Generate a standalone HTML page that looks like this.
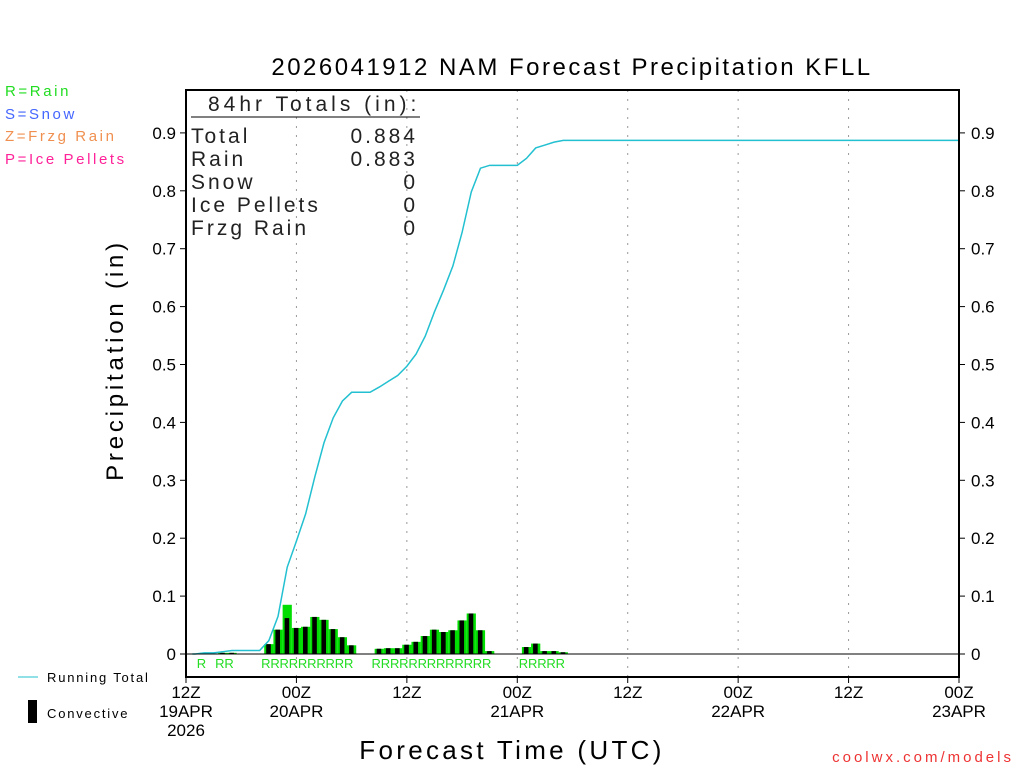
<!DOCTYPE html>
<html><head><meta charset="utf-8"><style>
body{margin:0;background:#fff}
svg text{font-family:"Liberation Sans",sans-serif}
</style></head><body>
<svg id="c" width="1024" height="768" xmlns="http://www.w3.org/2000/svg">
<text x="572" y="75" font-size="24" text-anchor="middle" letter-spacing="2.5">2026041912 NAM Forecast Precipitation KFLL</text>
<g font-size="15" letter-spacing="2.6">
<text x="5" y="96" fill="#22dd22">R=Rain</text>
<text x="5" y="119" fill="#4466ff">S=Snow</text>
<text x="5" y="141" fill="#f09050">Z=Frzg Rain</text>
<text x="5" y="164" fill="#ff2299">P=Ice Pellets</text>
</g>
<text transform="translate(123,360) rotate(-90)" font-size="24" text-anchor="middle" letter-spacing="3.8">Precipitation (in)</text>
<text x="512" y="759" font-size="26" text-anchor="middle" letter-spacing="3.3">Forecast Time (UTC)</text>
<text x="1014" y="762" font-size="15" fill="#ee3333" text-anchor="end" letter-spacing="3">coolwx.com/models</text>
<line x1="18" y1="677" x2="38" y2="677" stroke="#22c0d0"/>
<text x="47" y="682" font-size="13" letter-spacing="1.8">Running Total</text>
<rect x="28" y="700" width="9" height="23" fill="#000"/>
<text x="47" y="718" font-size="13" letter-spacing="1.8">Convective</text>
<g id="grid"></g><g id="bars"></g><g id="line"></g><g id="axes"></g>
<g font-size="21" letter-spacing="3" fill="#222">
<text x="208" y="111" letter-spacing="4">84hr Totals (in):</text>
<line x1="191" y1="117" x2="420" y2="117" stroke="#000"/>
<text x="191" y="143">Total</text><text x="418" y="143" text-anchor="end">0.884</text>
<text x="191" y="166">Rain</text><text x="418" y="166" text-anchor="end">0.883</text>
<text x="191" y="189">Snow</text><text x="418" y="189" text-anchor="end">0</text>
<text x="191" y="212">Ice Pellets</text><text x="418" y="212" text-anchor="end">0</text>
<text x="191" y="235">Frzg Rain</text><text x="418" y="235" text-anchor="end">0</text>
</g>
</svg>
<script>
const hours=[2,4,5,9,10,11,12,13,14,15,16,17,18,21,22,23,24,25,26,27,28,29,30,31,32,33,37,38,39,40,41];
const totalPrecip=[0.002,0.002,0.002,0.017,0.042,0.085,0.045,0.047,0.064,0.059,0.043,0.029,0.015,0.009,0.010,0.010,0.016,0.021,0.031,0.042,0.038,0.041,0.058,0.070,0.041,0.005,0.012,0.018,0.005,0.005,0.003];
const convPrecip=[0.002,0.002,0.002,0.017,0.042,0.062,0.045,0.047,0.064,0.059,0.043,0.029,0.015,0.009,0.010,0.010,0.016,0.021,0.031,0.042,0.038,0.041,0.058,0.070,0.041,0.005,0.012,0.018,0.005,0.005,0.003];
const yTicks=[0,0.1,0.2,0.3,0.4,0.5,0.6,0.7,0.8,0.9];
const yTickLabels=['0','0.1','0.2','0.3','0.4','0.5','0.6','0.7','0.8','0.9'];
const xTickHours=[0,12,24,36,48,60,72,84];
const xTickLabels=[['12Z','19APR','2026'],['00Z','20APR'],['12Z'],['00Z','21APR'],['12Z'],['00Z','22APR'],['12Z'],['00Z','23APR']];
const NS='http://www.w3.org/2000/svg';
const L=186,R=959,T=90,B=677;
const X=h=>L+h*(R-L)/84;
const Y=v=>654-v*579;
function mk(tag,parent,attrs){const e=document.createElementNS(NS,tag);for(const k in attrs)e.setAttribute(k,attrs[k]);document.getElementById(parent).appendChild(e);return e;}
xTickHours.forEach((h,i)=>{
 if(i>0&&i<xTickHours.length-1){const g=mk('line','grid',{x1:X(h),x2:X(h),y1:T,y2:B,stroke:'#999','stroke-dasharray':'2,7'});
 
 }
 const tk=mk('line','axes',{x1:X(h),x2:X(h),y1:B,y2:B+6,stroke:'#000'});
 
 
 xTickLabels[i].forEach((s,j)=>{const t=mk('text','axes',{x:X(h),y:B+21+j*19,'font-size':17,'text-anchor':'middle'});t.textContent=s;
 
 });
});
hours.forEach((h,i)=>{
 const x0=X(h-0.5),w=X(1)-X(0);
 const g=mk('rect','bars',{x:x0,y:Y(totalPrecip[i]),width:w,height:654-Y(totalPrecip[i]),fill:'#00dd00'});
 
 
 const b=mk('rect','bars',{x:x0+2,y:Y(convPrecip[i]),width:w*0.5,height:654-Y(convPrecip[i]),fill:'#000'});
 
 
 const r=mk('text','bars',{x:X(h)-3,y:668,'font-size':13,'text-anchor':'middle',fill:'#22dd22'});r.textContent='R';
 
 
});
let cum=0,pts=[[X(0.7),Y(0)]];
const cumByHour={};hours.forEach((h,i)=>cumByHour[h]=totalPrecip[i]);
for(let h=1;h<=84;h++){cum+=(cumByHour[h]||0);pts.push([X(h),Y(cum)]);}
const ln=mk('polyline','line',{points:pts.map(p=>p.join(',')).join(' '),fill:'none',stroke:'#22c0d0','stroke-width':1.5});


const z=mk('line','axes',{x1:L,x2:R,y1:654,y2:654,stroke:'#000'});


const fr=mk('rect','axes',{x:L,y:T,width:R-L,height:B-T,fill:'none',stroke:'#000','stroke-width':2});


yTicks.forEach((v,i)=>{
 [[L-6,L,L-10,'end'],[R,R+6,R+12,'start']].forEach(([a,b2,tx,an])=>{
  const t=mk('line','axes',{x1:a,x2:b2,y1:Y(v),y2:Y(v),stroke:'#000'});
  
  
  const s=mk('text','axes',{x:tx,y:Y(v)+6,'font-size':17,'text-anchor':an});s.textContent=yTickLabels[i];
  
  
 });
});
</script>
</body></html>
